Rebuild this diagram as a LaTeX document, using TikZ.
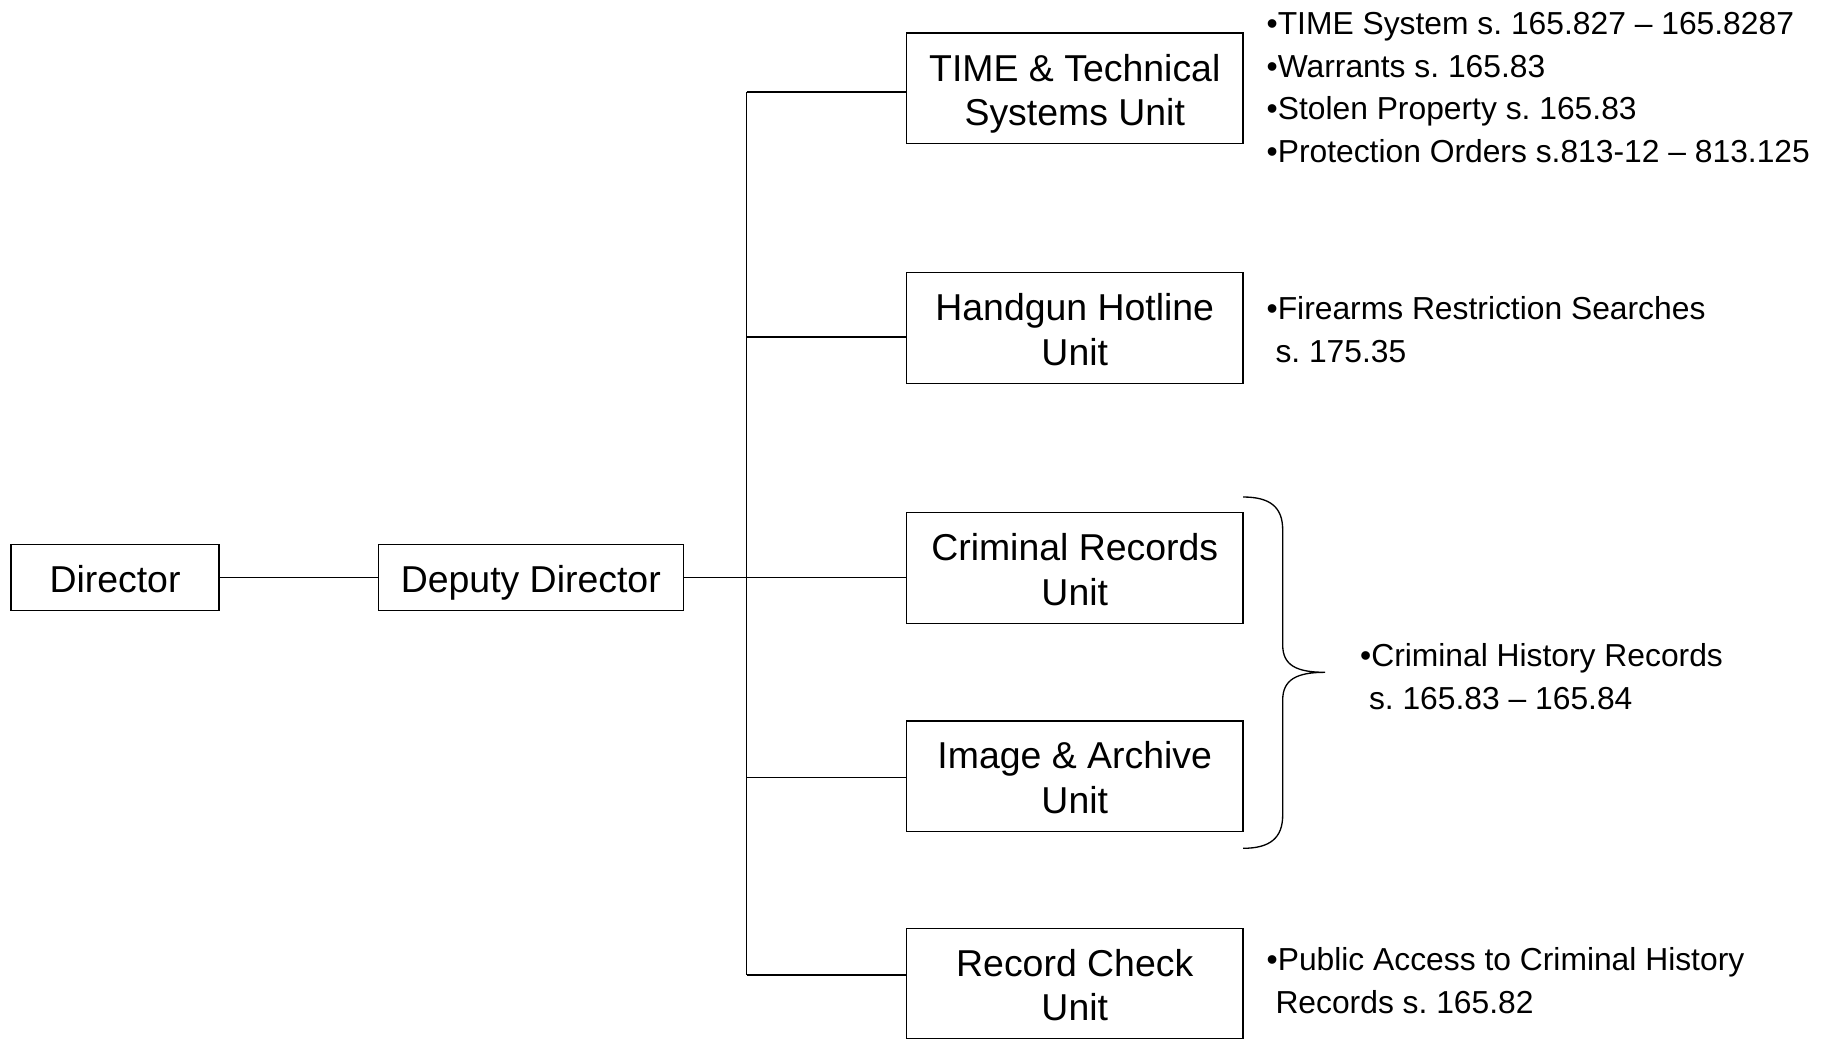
\documentclass[tikz,border=0pt]{standalone}
\usepackage{fontspec}
\setmainfont{Liberation Sans}
\usepackage{tikz}

\frenchspacing
\newcommand{\ind}{\hspace*{.278em}}
\newcommand{\topst}{\rule{0pt}{22.3pt}}
\newcommand{\botst}{\rule[-5.2pt]{0pt}{5.2pt}}

\begin{document}
\begin{tikzpicture}[x=0.02cm, y=-0.02cm, line width=0.75pt,
        box/.style={draw, inner sep=0pt, align=center,
            font=\fontsize{21.3}{25.4}\selectfont},
        headbox/.style={box, minimum height=1.33cm, text height=21.1pt, text depth=4.5pt},
        unitbox/.style={box, minimum width=6.73cm, minimum height=2.21cm},
        notes/.style={anchor=north west, inner sep=0pt, align=left,
            font=\fontsize{18.1}{24.2}\selectfont}]
        \useasboundingbox (0, 0) rectangle (1832, 1038);

        % top of the chart
        \node[headbox, minimum width=4.16cm] (dir) at (115, 577.5) {Director};
        \node[headbox, minimum width=6.1cm] (dep) at (530.8, 577.5) {Deputy Director};

        % units
        \node[unitbox] (time) at (1074.75, 88.3) {\topst TIME \& Technical\\Systems Unit\botst};
        \node[unitbox] (gun) at (1074.75, 328) {\topst Handgun Hotline\\Unit\botst};
        \node[unitbox] (crim) at (1074.75, 568) {\topst Criminal Records\\Unit\botst};
        \node[unitbox] (img) at (1074.75, 776.2) {\topst Image \& Archive\\Unit\botst};
        \node[unitbox] (rec) at (1074.75, 983.6) {\topst Record Check\\Unit\botst};

        % trunk
        \coordinate (j1) at (746.7, 92);
        \coordinate (j2) at (746.7, 337);
        \coordinate (j4) at (746.7, 777.7);
        \coordinate (j5) at (746.7, 975);
        \draw (j1) -- (j5);

        \draw (dir) -- (dep);
        \draw (dep) -- (dep -| crim.west);
        \draw (j1) -- (j1 -| time.west);
        \draw (j2) -- (j2 -| gun.west);
        \draw (j4) -- (j4 -| img.west);
        \draw (j5) -- (j5 -| rec.west);

        % brace
        \draw (1243, 497) .. controls (1270, 497) and (1282.7, 507) .. (1282.7, 530)
            -- (1282.7, 645) .. controls (1282.7, 665) and (1296, 672.3) .. (1325, 672.3)
            .. controls (1296, 672.3) and (1282.7, 680) .. (1282.7, 700)
            -- (1282.7, 815) .. controls (1282.7, 838) and (1270, 848.3) .. (1243, 848.3);

        % statutes
        \node[notes] (timenotes) at (1266, 12) {•TIME System s. 165.827 – 165.8287\\•Warrants s. 165.83\\•Stolen Property s. 165.83\\•Protection Orders s.813-12 – 813.125};
        \node[notes] (gunnotes) at (1266, 296) {•Firearms Restriction Searches\\\ind s. 175.35};
        \node[notes] (crimnotes) at (1359.5, 643) {•Criminal History Records\\\ind s. 165.83 – 165.84};
        \node[notes] (recnotes) at (1266, 947) {•Public Access to Criminal History\\\ind Records s. 165.82};
\end{tikzpicture}
\end{document}
